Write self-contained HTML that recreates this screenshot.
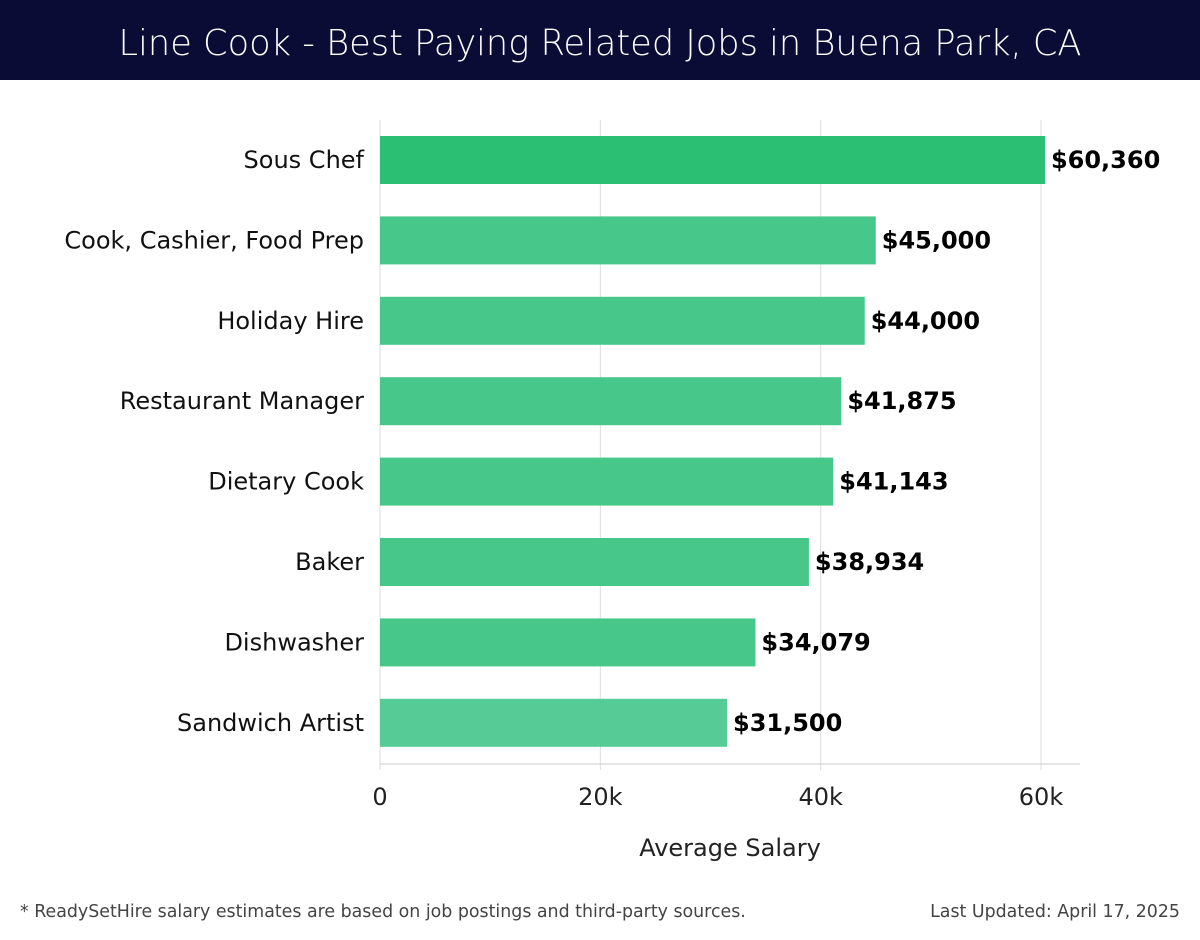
<!DOCTYPE html>
<html><head><meta charset="utf-8"><style>
body{margin:0;width:1200px;height:940px;background:#fff;font-family:"DejaVu Sans","Liberation Sans",sans-serif;overflow:hidden}
#hdr{position:absolute;left:0;top:0;width:1200px;height:80px;background:#0b0c35;color:#fff;font-size:35.2px;text-align:center;line-height:88px;font-family:"DejaVu Sans","Liberation Sans",sans-serif;font-weight:300}
.ft{position:absolute;top:902px;font-size:17.4px;color:#444;font-family:"DejaVu Sans","Liberation Sans",sans-serif}
</style></head><body>
<div id="hdr">Line Cook - Best Paying Related Jobs in Buena Park, CA</div>
<svg id="c" width="1200" height="940" style="position:absolute;left:0;top:0"></svg>
<div class="ft" style="left:20px">* ReadySetHire salary estimates are based on job postings and third-party sources.</div>
<div class="ft" style="right:20px">Last Updated: April 17, 2025</div>
<script>
const categories=["Sous Chef","Cook, Cashier, Food Prep","Holiday Hire","Restaurant Manager","Dietary Cook","Baker","Dishwasher","Sandwich Artist"];
const values=[60360,45000,44000,41875,41143,38934,34079,31500];
const labels=["$60,360","$45,000","$44,000","$41,875","$41,143","$38,934","$34,079","$31,500"];
const ticks=[0,20000,40000,60000];
const tickLabels=["0","20k","40k","60k"];
const svg=document.getElementById('c');const NS="http://www.w3.org/2000/svg";
const x=v=>380+v*(661/60000);
const y=i=>136+i*80.4;
function mk(t,a,p){const e=document.createElementNS(NS,t);for(const k in a)e.setAttribute(k,a[k]);(p||svg).appendChild(e);return e;}
ticks.forEach((t,i)=>{
 const g=mk('line',{x1:x(t),x2:x(t),y1:120,y2:770,stroke:'#ddd','stroke-width':1});
 
 
 const tl=mk('text',{x:x(t),y:805,'text-anchor':'middle','font-size':24,fill:'#222'});
 tl.textContent=tickLabels[i];
 
 
});
const ax=mk('line',{x1:380,x2:1080,y1:764,y2:764,stroke:'#ccc'});


const at=mk('text',{x:730,y:856,'text-anchor':'middle','font-size':24,fill:'#222'});
at.textContent="Average Salary";


categories.forEach((c,i)=>{
 const col=i==0?'#2bbf74':(i==7?'#56cb95':'#48c78a');
 const r=mk('rect',{x:380,y:y(i),width:x(values[i])-380,height:48,fill:col});
 
 
 const l=mk('text',{x:364,y:y(i)+32,'text-anchor':'end','font-size':24,fill:'#111'});
 l.textContent=c;
 
 
 const v=mk('text',{x:x(values[i])+6,y:y(i)+32,'font-size':24,'font-weight':'bold',fill:'#000'});
 v.textContent=labels[i];
 
 
});
</script>
</body></html>
